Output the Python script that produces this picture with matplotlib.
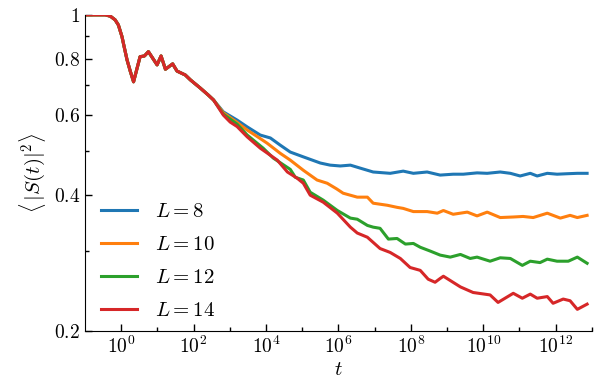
import numpy as np
import matplotlib
matplotlib.use("Agg")
import matplotlib.pyplot as plt
from matplotlib.ticker import FixedLocator, NullFormatter

plt.rcParams["mathtext.fontset"] = "cm"
plt.rcParams["font.family"] = "serif"

# log10(t) and <|S(t)|^2>, shared part before the system sizes split
early_lt = [-1.0, -0.6, -0.44, -0.3, -0.17, -0.08, 0.02, 0.08, 0.16, 0.25, 0.34,
            0.52, 0.64, 0.75, 0.99, 1.10, 1.22, 1.42, 1.54, 1.77, 1.91, 2.18,
            2.40, 2.55]
early_S = [1.0, 1.0, 1.0, 0.993, 0.975, 0.95, 0.895, 0.85, 0.795, 0.75, 0.711,
           0.808, 0.811, 0.829, 0.775, 0.811, 0.758, 0.779, 0.751, 0.736, 0.718,
           0.689, 0.665, 0.648]

lt_L8 = [2.82, 3.20, 3.48, 3.84, 4.12, 4.39, 4.67, 5.03, 5.50, 5.77, 6.05, 6.33,
         6.60, 6.96, 7.43, 7.79, 8.07, 8.45, 8.81, 9.17, 9.45, 9.83, 10.11, 10.47,
         10.75, 11.02, 11.30, 11.49, 11.77, 12.04, 12.30, 12.60, 12.87]
S_L8 = [.610, .585, .565, .542, .534, .515, .497, .485, .470, .465, .463, .465,
        .458, .449, .446, .451, .446, .449, .442, .444, .444, .447, .446, .449,
        .446, .440, .446, .440, .446, .444, .445, .446, .446]

lt_L10 = [2.82, 3.20, 3.48, 3.80, 4.03, 4.39, 4.67, 5.03, 5.41, 5.69, 5.95, 6.13,
          6.52, 6.80, 6.96, 7.35, 7.62, 7.79, 8.07, 8.45, 8.73, 8.90, 9.17, 9.56,
          9.83, 10.11, 10.47, 10.83, 11.10, 11.38, 11.77, 12.13, 12.40, 12.60, 12.87]
S_L10 = [.607, .578, .556, .535, .520, .494, .477, .453, .431, .424, .412, .403,
         .395, .395, .383, .379, .375, .373, .367, .367, .364, .369, .362, .366,
         .359, .366, .356, .357, .358, .356, .364, .355, .360, .356, .360]

lt_L12 = [2.82, 3.20, 3.48, 3.92, 4.20, 4.67, 4.81, 5.03, 5.22, 5.58, 5.97, 6.33,
          6.52, 6.80, 6.96, 7.15, 7.38, 7.62, 7.85, 8.07, 8.26, 8.54, 8.81, 9.09,
          9.37, 9.64, 9.83, 10.19, 10.47, 10.75, 11.08, 11.30, 11.57, 11.77, 12.04,
          12.35, 12.60, 12.87]
S_L12 = [.603, .573, .542, .507, .482, .455, .437, .431, .405, .389, .369, .355,
         .353, .342, .339, .337, .319, .320, .311, .312, .306, .300, .294, .291,
         .295, .289, .291, .285, .290, .289, .279, .285, .283, .288, .285,
         .285, .291, .282]

lt_L14 = [2.82, 3.01, 3.20, 3.48, 3.84, 4.31, 4.59, 4.86, 5.03, 5.22, 5.58, 5.97,
          6.33, 6.52, 6.80, 7.15, 7.43, 7.71, 7.98, 8.26, 8.48, 8.67, 8.81, 8.90,
          9.37, 9.72, 10.19, 10.41, 10.83, 11.08, 11.30, 11.49, 11.77, 11.93, 12.21,
          12.40, 12.60, 12.87]
S_L14 = [.600, .579, .566, .537, .507, .477, .449, .435, .424, .399, .385, .364,
         .339, .329, .322, .304, .298, .289, .276, .272, .260, .256, .261, .264,
         .250, .243, .240, .231, .242, .236, .241, .236, .238, .230, .235,
         .233, .223, .229]

sizes = [8, 10, 12, 14]
tails = [(lt_L8, S_L8), (lt_L10, S_L10), (lt_L12, S_L12), (lt_L14, S_L14)]
colors = ["#1f77b4", "#ff7f0e", "#2ca02c", "#d62728"]

fig = plt.figure(figsize=(5.99, 3.81), dpi=100)
ax = fig.add_axes([0.142, 0.132, 0.846, 0.829])

for L, (lt, S), c in zip(sizes, tails, colors):
    t = 10.0 ** np.array(early_lt + lt)
    ax.plot(t, early_S + S, color=c, lw=2.2, label=r"$L=%d$" % L)

ax.set_xscale("log")
ax.set_yscale("log")
ax.set_xlim(10 ** -1, 10 ** 13)
ax.set_ylim(0.2, 1.0)

ax.xaxis.set_major_locator(FixedLocator([10.0 ** k for k in range(0, 13, 2)]))
ax.xaxis.set_minor_locator(FixedLocator([10.0 ** k for k in range(1, 14, 2)]))
ax.set_xticklabels([r"$10^{%d}$" % k for k in range(0, 13, 2)])
ax.xaxis.set_minor_formatter(NullFormatter())

yt = [0.2, 0.4, 0.6, 0.8, 1.0]
ax.yaxis.set_major_locator(FixedLocator(yt))
ax.yaxis.set_minor_locator(FixedLocator([0.3, 0.5, 0.7, 0.9]))
ax.set_yticklabels([r"$0.2$", r"$0.4$", r"$0.6$", r"$0.8$", r"$1$"])
ax.yaxis.set_minor_formatter(NullFormatter())

ax.tick_params(which="both", direction="in", labelsize=14, width=1)
ax.tick_params(which="major", length=5)
ax.tick_params(which="minor", length=3)
ax.spines["top"].set_visible(False)
ax.spines["right"].set_visible(False)

ax.set_xlabel(r"$t$", fontsize=15, labelpad=2)
ax.set_ylabel(r"$\langle\,|S(t)|^2\rangle$", fontsize=15, labelpad=4)

ax.legend(loc="lower left", frameon=False, fontsize=15, handlelength=1.75,
          handletextpad=0.85, labelspacing=0.68, bbox_to_anchor=(-0.006, -0.027))

fig.savefig("out.png", dpi=100)
